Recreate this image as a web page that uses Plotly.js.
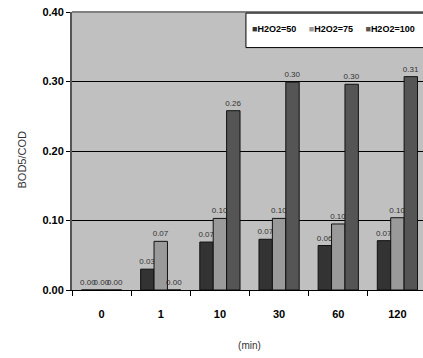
<!DOCTYPE html>
<html>
<head>
<meta charset="utf-8">
<script src="https://cdn.plot.ly/plotly-3.0.1.min.js"></script>
<style>
html,body{margin:0;padding:0;overflow:hidden;background:#fff;}
#chart{width:430px;height:358px;}
</style>
</head>
<body>
<div id="chart"></div>
<script>
const categories = ["0", "1", "10", "30", "60", "120"];
const h2o2_50 = [0.00, 0.03, 0.069, 0.073, 0.064, 0.071];
const h2o2_75 = [0.00, 0.070, 0.103, 0.103, 0.095, 0.104];
const h2o2_100 = [0.00, 0.00, 0.258, 0.299, 0.296, 0.307];
const seriesNames = ["H2O2=50", "H2O2=75", "H2O2=100"];
const seriesColors = ["#333333", "#9a9a9a", "#555555"];

const labelFont = {family: "Liberation Sans Narrow, Liberation Sans, Arial", size: 8, color: "#333"};
function mk(name, y, color) {
  return {
    type: "bar", name: name, x: categories, y: y,
    marker: {color: color, line: {color: "#111", width: 1}},
    text: y.map(v => v.toFixed(2)),
    textposition: "outside",
    textfont: labelFont,
    constraintext: "none",
    cliponaxis: false,
    hoverinfo: "none"
  };
}
const data = [
  mk(seriesNames[0], h2o2_50, seriesColors[0]),
  mk(seriesNames[1], h2o2_75, seriesColors[1]),
  mk(seriesNames[2], h2o2_100, seriesColors[2])
];
const legendText = seriesNames.map((n, i) =>
  "<span style='color:" + seriesColors[i] + "'>■</span>" + n).join("&nbsp;&nbsp;&nbsp;&nbsp;&nbsp;");
const layout = {
  width: 430, height: 358,
  margin: {l: 72, r: 3, t: 12, b: 68},
  paper_bgcolor: "#ffffff",
  plot_bgcolor: "#c0c0c0",
  barmode: "group", bargap: 0.32, bargroupgap: 0,
  font: {family: "Liberation Sans, Arial", color: "#000"},
  showlegend: false,
  xaxis: {
    type: "category", tickson: "boundaries", ticks: "outside", ticklen: 5,
    tickcolor: "#000", showline: true, linecolor: "#000", linewidth: 1,
    tickfont: {size: 11, weight: "bold"}, ticklabelstandoff: 14,
    title: {text: "(min)", font: {size: 10, color: "#333"}, standoff: 22},
    showgrid: false, fixedrange: true
  },
  yaxis: {
    range: [0, 0.4], dtick: 0.1, tickformat: ".2f",
    ticks: "outside", ticklen: 4, tickcolor: "#000",
    showline: true, linecolor: "#555", linewidth: 2,
    gridcolor: "#000", gridwidth: 1, zeroline: false,
    tickfont: {size: 11, weight: "bold"},
    fixedrange: true
  },
  annotations: [
    {xref: "paper", yref: "paper", x: -0.142, y: 0.468, xanchor: "center", yanchor: "middle",
     text: "BOD5/COD", textangle: -90, showarrow: false,
     font: {family: "Liberation Sans Narrow, Liberation Sans, Arial", size: 11, color: "#333"}},
    {xref: "paper", yref: "paper", x: 0.5, y: 0.94, xanchor: "left", yanchor: "middle",
     text: legendText, showarrow: false, align: "left",
     font: {family: "Liberation Sans, Arial", size: 9, weight: "bold", color: "#000"}}
  ],
  shapes: [
    {type: "line", xref: "paper", yref: "paper", x0: 0, x1: 1, y0: 1, y1: 1,
     line: {color: "#808080", width: 2}},
    {type: "rect", xref: "paper", yref: "paper", x0: 0.49, x1: 1.02, y0: 0.872, y1: 0.996,
     fillcolor: "#ffffff", line: {color: "#000", width: 1}}
  ]
};
Plotly.newPlot("chart", data, layout, {displayModeBar: false, staticPlot: true});
</script>
</body>
</html>
